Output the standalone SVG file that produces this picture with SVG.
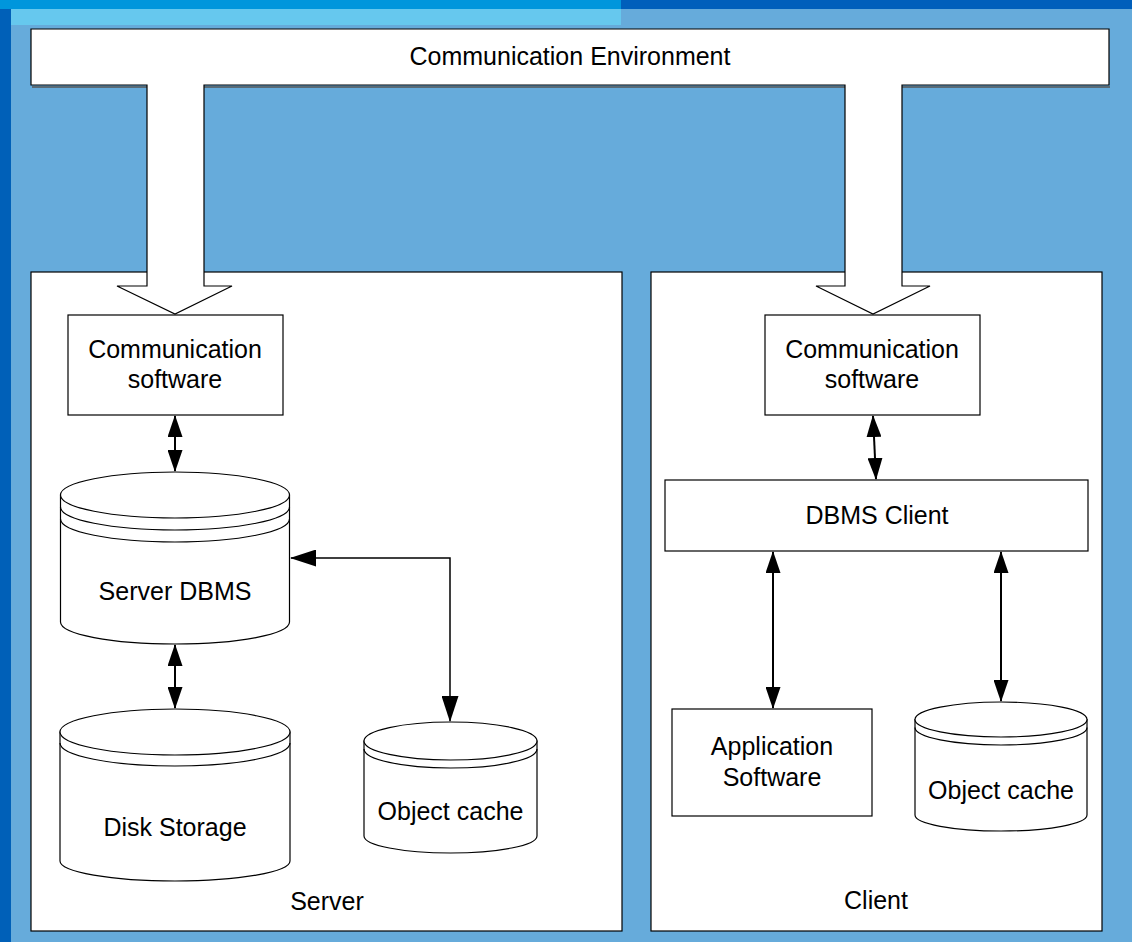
<svg xmlns="http://www.w3.org/2000/svg" width="1132" height="942" viewBox="0 0 1132 942">
  <style>
    .box { fill: #ffffff; stroke: #000000; stroke-width: 1.2; }
    .cyl { fill: #ffffff; stroke: #000000; stroke-width: 1.2; }
    .ring { fill: none; stroke: #000000; stroke-width: 1.2; }
    .lbl { font-family: "Liberation Sans", Arial, sans-serif; font-size: 25px; fill: #000000; text-anchor: middle; }
    .link { fill: none; stroke: #000000; stroke-width: 2; }
    .link-thin { fill: none; stroke: #000000; stroke-width: 1.5; }
  </style>
  <defs>
    <marker id="ah" viewBox="0 0 22 15" refX="21" refY="7.5" markerWidth="22" markerHeight="15" markerUnits="userSpaceOnUse" orient="auto-start-reverse">
      <path d="M0,0 L22,7.5 L0,15 Z" fill="#000000"/>
    </marker>
    <marker id="ah-lg" viewBox="0 0 26 17" refX="25" refY="8.5" markerWidth="26" markerHeight="17" markerUnits="userSpaceOnUse" orient="auto-start-reverse">
      <path d="M0,0 L26,8.5 L0,17 Z" fill="#000000"/>
    </marker>
  </defs>

  <!-- slide background -->
  <g id="background">
    <rect x="0" y="0" width="1132" height="942" fill="#66abdb"/>
    <rect x="0" y="0" width="621" height="9" fill="#0096dc"/>
    <rect x="621" y="0" width="511" height="9" fill="#005fbb"/>
    <rect x="11" y="9" width="610" height="16" fill="#66c8ee"/>
    <rect x="0" y="9" width="11" height="933" fill="#0060b8"/>
  </g>

  <!-- containers -->
  <g id="server">
    <rect class="box" x="31" y="272" width="591" height="659"/>
    <text class="lbl" x="327" y="910">Server</text>
  </g>
  <g id="client">
    <rect class="box" x="651" y="272" width="451" height="659"/>
    <text class="lbl" x="876" y="909">Client</text>
  </g>

  <!-- communication environment bus with its two feed arrows -->
  <g id="comm-env">
    <path d="M32,87 H1110" stroke="#555555" stroke-width="1.5" fill="none"/>
    <path class="box" d="M31,29 H1109 V85 H902 V286 H930 L873,314 L816,286 H845 V85 H204 V286 H232 L175,314 L117,286 H147 V85 H31 Z"/>
    <text class="lbl" x="570" y="65">Communication Environment</text>
  </g>

  <!-- server side -->
  <g id="server-comm">
    <rect class="box" x="68" y="315" width="215" height="100"/>
    <text class="lbl" x="175" y="358">Communication</text>
    <text class="lbl" x="175" y="388">software</text>
  </g>

  <g id="server-dbms">
    <path class="cyl" d="M60.5,495 L60.5,622 A114.5,22 0 0 0 289.5,622 L289.5,495 Z"/>
    <ellipse class="cyl" cx="175" cy="495" rx="114.5" ry="23"/>
    <path class="ring" d="M60.5,507 A114.5,23 0 0 0 289.5,507"/>
    <path class="ring" d="M60.5,519 A114.5,23 0 0 0 289.5,519"/>
    <text class="lbl" x="175" y="600">Server DBMS</text>
  </g>

  <g id="disk-storage">
    <path class="cyl" d="M60,732 L60,861 A115,20 0 0 0 290,861 L290,732 Z"/>
    <ellipse class="cyl" cx="175" cy="732" rx="115" ry="23"/>
    <path class="ring" d="M60,743 A115,23 0 0 0 290,743"/>
    <text class="lbl" x="175" y="836">Disk Storage</text>
  </g>

  <g id="server-cache">
    <path class="cyl" d="M364,741 L364,836 A86.5,17 0 0 0 537,836 L537,741 Z"/>
    <ellipse class="cyl" cx="450.5" cy="741" rx="86.5" ry="19"/>
    <path class="ring" d="M364,749 A86.5,19 0 0 0 537,749"/>
    <text class="lbl" x="450.5" y="820">Object cache</text>
  </g>

  <!-- client side -->
  <g id="client-comm">
    <rect class="box" x="765" y="315" width="215" height="100"/>
    <text class="lbl" x="872" y="358">Communication</text>
    <text class="lbl" x="872" y="388">software</text>
  </g>

  <g id="dbms-client">
    <rect class="box" x="665" y="480" width="423" height="71"/>
    <text class="lbl" x="877" y="524">DBMS Client</text>
  </g>

  <g id="app-software">
    <rect class="box" x="672" y="709" width="200" height="107"/>
    <text class="lbl" x="772" y="755">Application</text>
    <text class="lbl" x="772" y="786">Software</text>
  </g>

  <g id="client-cache">
    <path class="cyl" d="M915,719.5 L915,815 A86,16 0 0 0 1087,815 L1087,719.5 Z"/>
    <ellipse class="cyl" cx="1001" cy="719.5" rx="86" ry="17.5"/>
    <path class="ring" d="M915,727.5 A86,17.5 0 0 0 1087,727.5"/>
    <text class="lbl" x="1001" y="799">Object cache</text>
  </g>

  <!-- connectors -->
  <g id="connectors">
    <path class="link" d="M175,416 L175,471" marker-start="url(#ah)" marker-end="url(#ah)"/>
    <path class="link" d="M175,645 L175,708" marker-start="url(#ah)" marker-end="url(#ah)"/>
    <path class="link-thin" d="M291,558 H450 V721" marker-start="url(#ah-lg)" marker-end="url(#ah-lg)"/>
    <path class="link" d="M873,416 L876,479" marker-start="url(#ah)" marker-end="url(#ah)"/>
    <path class="link" d="M773,552 L773,708" marker-start="url(#ah)" marker-end="url(#ah)"/>
    <path class="link" d="M1001,552 L1001,701" marker-start="url(#ah)" marker-end="url(#ah)"/>
  </g>
</svg>
